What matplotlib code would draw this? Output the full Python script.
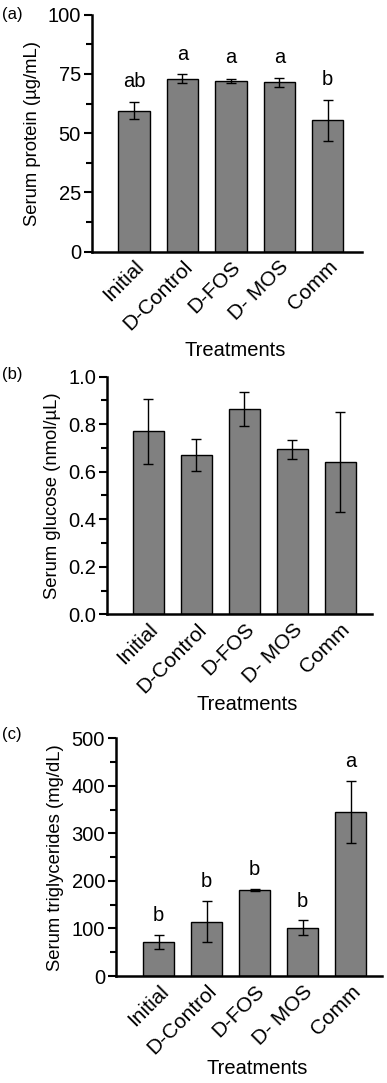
import matplotlib
matplotlib.use("Agg")
import matplotlib.pyplot as plt
from matplotlib.ticker import MultipleLocator, AutoMinorLocator
import numpy as np

plt.rcParams['font.family'] = ['Liberation Sans', 'DejaVu Sans']

categories = ["Initial", "D-Control", "D-FOS", "D- MOS", "Comm"]

protein_mean = [59.5, 73.0, 72.0, 71.5, 55.5]
protein_err = [3.6, 2.0, 0.7, 2.0, 8.7]
protein_letters = ["ab", "a", "a", "a", "b"]
protein_letter_y = [72, 83, 82, 82, 72.5]

glucose_mean = [0.771, 0.670, 0.864, 0.694, 0.642]
glucose_err = [0.137, 0.067, 0.072, 0.040, 0.211]

tg_mean = [72, 114, 181, 102, 345]
tg_err = [15, 43, 1.5, 16, 66]
tg_letters = ["b", "b", "b", "b", "a"]
tg_letter_y = [128, 198, 225, 156, 451]

W, H = 387, 1083
fig = plt.figure(figsize=(W / 100, H / 100), dpi=100)

def ax_at(l, r, t, b):
    return fig.add_axes([l / W, 1 - b / H, (r - l) / W, (b - t) / H])

panels = [
    dict(box=(92, 362, 14.7, 251.7), xlim=(-0.87, 4.71), mean=protein_mean, err=protein_err,
         ylim=(0, 100), major=25, ylabel="Serum protein (\u00b5g/mL)",
         letters=protein_letters, ly=protein_letter_y, tag="(a)", tagy=14,
         xlabel_y=350, fmt=None),
    dict(box=(107, 372, 376.7, 614.3), xlim=(-0.865, 4.66), mean=glucose_mean, err=glucose_err,
         ylim=(0, 1.0), major=0.2, ylabel="Serum glucose (nmol/\u00b5L)",
         letters=None, ly=None, tag="(b)", tagy=375, xlabel_y=705, fmt="%.1f"),
    dict(box=(116, 382, 738.3, 976), xlim=(-0.89, 4.65), mean=tg_mean, err=tg_err,
         ylim=(0, 500), major=100, ylabel="Serum triglycerides (mg/dL)",
         letters=tg_letters, ly=tg_letter_y, tag="(c)", tagy=735, xlabel_y=1068, fmt=None),
]

x = np.arange(len(categories))
for p in panels:
    ax = ax_at(*p["box"])
    ax.bar(x, p["mean"], width=0.65, color="#808080", edgecolor="black", linewidth=1.0, zorder=2)
    ax.errorbar(x, p["mean"], yerr=p["err"], fmt="none", ecolor="black", elinewidth=1.0,
                capsize=3.3, capthick=1.0, zorder=3)
    ax.set_xlim(*p["xlim"])
    ax.set_ylim(*p["ylim"])
    ax.yaxis.set_major_locator(MultipleLocator(p["major"]))
    ax.yaxis.set_minor_locator(AutoMinorLocator(2))
    if p["fmt"]:
        ax.yaxis.set_major_formatter(plt.FormatStrFormatter(p["fmt"]))
    for s in ["top", "right"]:
        ax.spines[s].set_visible(False)
    for s in ["left", "bottom"]:
        ax.spines[s].set_linewidth(1.8)
    ax.tick_params(axis="y", which="major", length=6, width=1.5, labelsize=14.5, pad=2)
    ax.tick_params(axis="y", which="minor", length=4, width=1.5)
    ax.tick_params(axis="x", which="both", length=0, labelsize=15, pad=4)
    ax.set_xticks(x)
    ax.set_xticklabels(categories, rotation=45, ha="right", rotation_mode="anchor")
    ax.set_ylabel(p["ylabel"], fontsize=13.3, labelpad=5)
    if p["letters"]:
        for xi, lab, yv in zip(x, p["letters"], p["ly"]):
            ax.text(xi, yv, lab, ha="center", va="center", fontsize=14.5)
    l, r, t, b = p["box"]
    fig.text((l + r) / 2 / W + 0.02, 1 - p["xlabel_y"] / H, "Treatments", ha="center", va="center", fontsize=14.5)
    fig.text(2 / W, 1 - p["tagy"] / H, p["tag"], ha="left", va="center", fontsize=12)

fig.savefig("out.png", dpi=100)
